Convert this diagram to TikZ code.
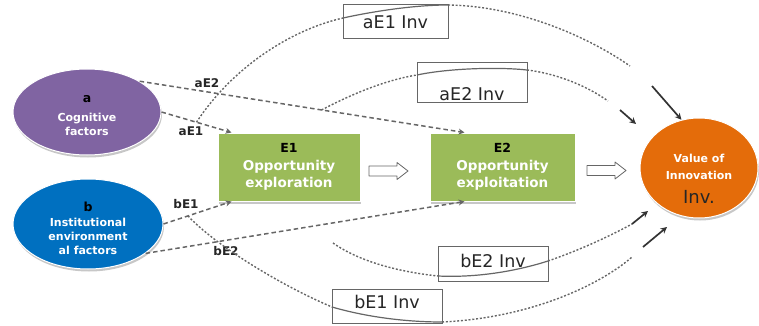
\documentclass[tikz,border=0pt]{standalone}
\usepackage{fontspec}
\setmainfont{DejaVu Sans}
\usetikzlibrary{shapes.geometric,arrows.meta,shadows}
\definecolor{purp}{HTML}{8064A2}
\definecolor{blu}{HTML}{0070C0}
\definecolor{grn}{HTML}{9BBB59}
\definecolor{org}{HTML}{E46C0A}
\definecolor{ln}{HTML}{666666}
\tikzset{
  shd/.style={drop shadow={shadow xshift=1pt,shadow yshift=-2.5pt,fill=black!22,opacity=1}},
  ell/.style={ellipse,draw=white,line width=1pt,inner sep=0pt,shd},
  gbox/.style={rectangle,fill=grn,draw=white,line width=1pt,minimum width=142pt,minimum height=68pt,
              shd,align=center,text=white,font=\bfseries\fontsize{13.5}{17}\selectfont},
  intext/.style={align=center,text=white,inner sep=0pt,font=\bfseries\fontsize{11}{14}\selectfont},
  hollow/.style={draw=ln,fill=white,line width=0.8pt,line join=round},
  lbox/.style={rectangle,draw=ln,line width=1pt,fill=white,inner sep=0pt},
  ltext/.style={font=\fontsize{17.5}{18}\selectfont,inner sep=0pt,text=black!85},
  elbl/.style={font=\bfseries\fontsize{12}{13}\selectfont,inner sep=0pt,text=black!85},
  dsh/.style={draw=ln,line width=1.5pt,dash pattern=on 4.5pt off 3pt},
  crv/.style={draw=ln,line width=1.4pt,dash pattern=on 2pt off 1.8pt},
  sol/.style={draw=ln,line width=1.2pt},
  tipA/.style={-{Stealth[length=6pt,width=6pt]}},
  tipL/.style={draw=black!80,line width=1.7pt,-{Stealth[length=6.5pt,width=6.5pt]}}
}
\begin{document}
\begin{tikzpicture}[x=1pt,y=-1pt]
\useasboundingbox (0,0) rectangle (759,326);

% label boxes
\node[lbox,minimum width=105pt,minimum height=34pt] (L1) at (395.5,22) {};
\node[ltext] (T1) at (395.5,22) {aE1 Inv};
\node[lbox,minimum width=110pt,minimum height=40pt] (L2) at (472,83) {};
\node[ltext] (T2) at (472,94) {aE2 Inv};
\node[lbox,minimum width=110pt,minimum height=35pt] (L3) at (493,263.5) {};
\node[ltext] (T3) at (493,261) {bE2 Inv};
\node[lbox,minimum width=110pt,minimum height=34pt] (L4) at (387,306) {};
\node[ltext] (T4) at (387,302) {bE1 Inv};

% main nodes
\node[ell,fill=purp,minimum width=148pt,minimum height=86pt] (a) at (87,112) {};
\node[intext] (aT) at ([yshift=-3.5pt]a.center)
  {{\color{black}\fontsize{12.5}{13}\selectfont a}\\[5pt]Cognitive\\factors};
\node[ell,fill=blu,minimum width=150pt,minimum height=90pt] (b) at (88,224) {};
\node[intext] (bT) at ([yshift=-4pt]b.center)
  {{\color{black}\fontsize{12.5}{13}\selectfont b}\\[1pt]Institutional\\environment\\al factors};
\node[gbox] (E1) at (289,167)
  {{\color{black}\fontsize{12.5}{13}\selectfont E1}\\[1pt]Opportunity\\exploration};
\node[gbox,minimum width=145pt] (E2) at (502.5,167)
  {{\color{black}\fontsize{12.5}{13}\selectfont E2}\\[1pt]Opportunity\\exploitation};
\node[ell,fill=org,minimum width=118pt,minimum height=100pt] (Inv) at (699,168) {};
\node[intext,font=\bfseries\fontsize{11}{17}\selectfont] (InvT) at ([yshift=-11pt]Inv.center)
  {Value of\\Innovation\\[7pt]{\color{black!85}\mdseries\fontsize{18}{18}\selectfont Inv.}};

% hollow block arrows
\coordinate (h1) at (369,171);
\coordinate (h2) at (587,170.5);
\draw[hollow] (h1) ++(0,-5) -- ++(28,0) -- ++(0,-3.5) -- ++(11,8.5) -- ++(-11,8.5) -- ++(0,-3.5) -- ++(-28,0) -- cycle;
\draw[hollow] (h2) ++(0,-5) -- ++(28,0) -- ++(0,-3.5) -- ++(11,8.5) -- ++(-11,8.5) -- ++(0,-3.5) -- ++(-28,0) -- cycle;

% straight dashed paths
\draw[dsh,tipA] (a.east) -- ([xshift=14pt]E1.north west) coordinate[pos=0.5] (s1);
\draw[dsh,tipA] (a.north east) -- ([xshift=35pt]E2.north west) coordinate[pos=0.56] (s2);
\draw[dsh,tipA] (b.east) -- ([xshift=14pt]E1.south west) coordinate[pos=0.36] (s4);
\draw[dsh,tipA] (b.-27) -- ([xshift=35pt]E2.south west);

% edge labels
\node[elbl] at (191,131) {aE1};
\node[elbl] at (207,83) {aE2};
\node[elbl] at (186,204) {bE1};
\node[elbl] at (226,251) {bE2};

% curve coordinates
\coordinate (p1a) at (343,18);  \coordinate (p1b) at (448,5);  \coordinate (p1c) at (630,66);
\coordinate (q1) at (652,86);
\coordinate (p2a) at (417,75);  \coordinate (p2b) at (527,70); \coordinate (p2c) at (608,101);
\coordinate (q2a) at (620,110); \coordinate (q2b) at (636,124);
\coordinate (s3) at (333,243);
\coordinate (p3a) at (438,276); \coordinate (p3b) at (548,261); \coordinate (p3c) at (632,224);
\coordinate (q3) at (648,211);
\coordinate (p4a) at (332,307); \coordinate (p4b) at (442,322); \coordinate (p4c) at (632,257);
\coordinate (q4a) at (643,247); \coordinate (q4b) at (667,227);

% curve aE1 Inv
\draw[crv] (s1) .. controls (232,68) and (290,30) .. (p1a);
\draw[sol] (p1a) .. controls (375,11) and (415,5) .. (p1b);
\draw[crv] (p1b) .. controls (520,6) and (590,38) .. (p1c);
\draw[tipL] (q1) -- (Inv.110);
% curve aE2 Inv
\draw[crv] (s2) .. controls (350,95) and (385,80) .. (p2a);
\draw[sol] (p2a) .. controls (450,68) and (500,67) .. (p2b);
\draw[crv] (p2b) .. controls (560,74) and (590,88) .. (p2c);
\draw[tipL] (q2a) -- (q2b);
% curve bE2 Inv
\draw[crv] (s3) .. controls (360,262) and (400,272) .. (p3a);
\draw[sol] (p3a) .. controls (480,278) and (520,270) .. (p3b);
\draw[crv] (p3b) .. controls (580,250) and (610,236) .. (p3c);
\draw[tipL] (p3c) -- (q3);
% curve bE1 Inv
\draw[crv] (s4) .. controls (215,245) and (280,285) .. (p4a);
\draw[sol] (p4a) .. controls (370,318) and (410,322) .. (p4b);
\draw[crv] (p4b) .. controls (530,318) and (600,285) .. (p4c);
\draw[tipL] (q4a) -- (q4b);
\end{tikzpicture}
\end{document}
